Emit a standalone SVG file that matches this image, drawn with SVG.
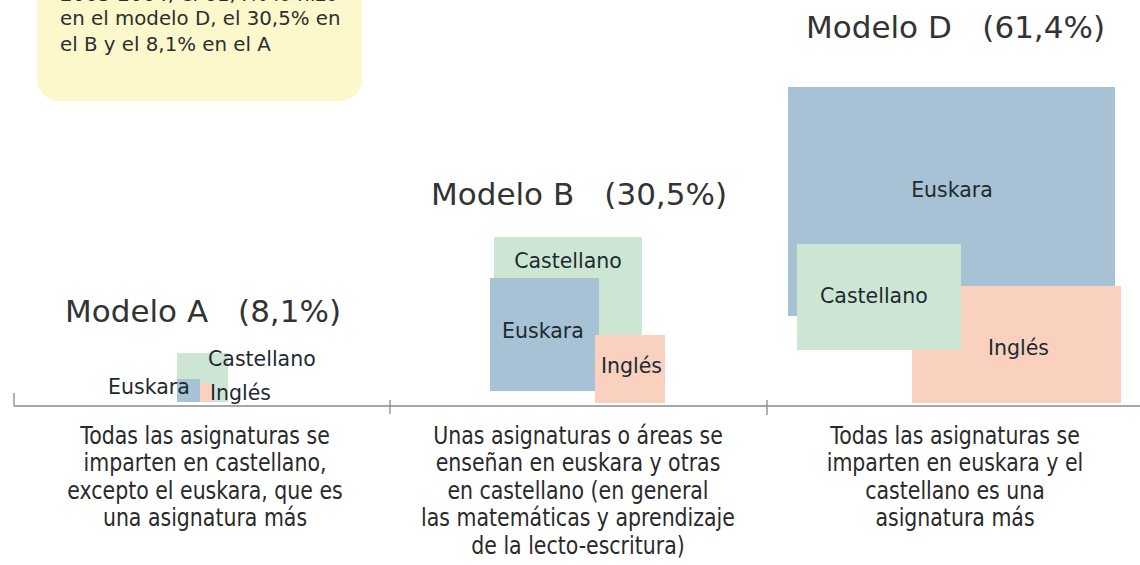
<svg xmlns="http://www.w3.org/2000/svg" width="1140" height="565" viewBox="0 0 1140 565">
<style>
text{font-family:"DejaVu Sans","Liberation Sans",sans-serif;fill:#2b2f33}
.note{font-size:19.8px}
.title{font-size:31px;fill:#333}
.lab{font-size:20.5px;fill:#1e2a30}
.desc{font-size:20.5px;text-anchor:middle;fill:#2a2a2a}
.eus{fill:#a6c2d4}
.cas{fill:#cde6d4}
.ing{fill:#f9d1be}
.axis{stroke:#8a8a8a;stroke-width:1.3;fill:none}
</style>
<rect width="1140" height="565" fill="#ffffff"/>
<g id="note">
<rect x="37" y="-40" width="325" height="141" rx="22" fill="#fdf8cb"/>
<text class="note" x="60" y="1">2003-2004, el 61,4% lo hizo</text>
<text class="note" x="60" y="25">en el modelo D, el 30,5% en</text>
<text class="note" x="60" y="51">el B y el 8,1% en el A</text>
</g>
<g id="axis">
<path class="axis" d="M14 406 H1140 M14 393 V406 M390 400 V414 M767 400 V415"/>
</g>
<g id="modeloA">
<text class="title" x="65" y="322">Modelo A</text>
<text class="title" x="341" y="322" text-anchor="end">(8,1%)</text>
<rect class="cas" x="177" y="353" width="51" height="49"/>
<rect class="eus" x="177" y="379" width="23" height="23"/>
<rect class="ing" x="200" y="383" width="12" height="19"/>
<text class="lab" x="208" y="366">Castellano</text>
<text class="lab" x="108" y="394">Euskara</text>
<text class="lab" x="210" y="400">Inglés</text>
<g transform="scale(1,1.25)">
<text class="desc" x="205" y="355.2">Todas las asignaturas se</text>
<text class="desc" x="205" y="376.8">imparten en castellano,</text>
<text class="desc" x="205" y="399.2">excepto el euskara, que es</text>
<text class="desc" x="205" y="420.8">una asignatura más</text>
</g>
</g>
<g id="modeloB">
<text class="title" x="431" y="205">Modelo B</text>
<text class="title" x="727" y="205" text-anchor="end">(30,5%)</text>
<rect class="cas" x="494" y="237" width="148" height="98"/>
<rect class="eus" x="490" y="278" width="109" height="113"/>
<rect class="ing" x="595" y="335" width="70" height="68"/>
<text class="lab" x="568" y="268" text-anchor="middle">Castellano</text>
<text class="lab" x="502" y="338">Euskara</text>
<text class="lab" x="601" y="373">Inglés</text>
<g transform="scale(1,1.25)">
<text class="desc" x="578" y="355.2">Unas asignaturas o áreas se</text>
<text class="desc" x="578" y="376.8">enseñan en euskara y otras</text>
<text class="desc" x="578" y="399.2">en castellano (en general</text>
<text class="desc" x="578" y="420.8">las matemáticas y aprendizaje</text>
<text class="desc" x="578" y="443.2">de la lecto-escritura)</text>
</g>
</g>
<g id="modeloD">
<text class="title" x="806" y="38">Modelo D</text>
<text class="title" x="1105" y="38" text-anchor="end">(61,4%)</text>
<rect class="eus" x="788" y="87" width="327" height="229"/>
<rect class="ing" x="912" y="286" width="209" height="117"/>
<rect class="cas" x="797" y="244" width="164" height="106"/>
<text class="lab" x="952" y="197" text-anchor="middle">Euskara</text>
<text class="lab" x="820" y="303">Castellano</text>
<text class="lab" x="988" y="355">Inglés</text>
<g transform="scale(1,1.25)">
<text class="desc" x="955" y="355.2">Todas las asignaturas se</text>
<text class="desc" x="955" y="376.8">imparten en euskara y el</text>
<text class="desc" x="955" y="399.2">castellano es una</text>
<text class="desc" x="955" y="420.8">asignatura más</text>
</g>
</g>
</svg>
